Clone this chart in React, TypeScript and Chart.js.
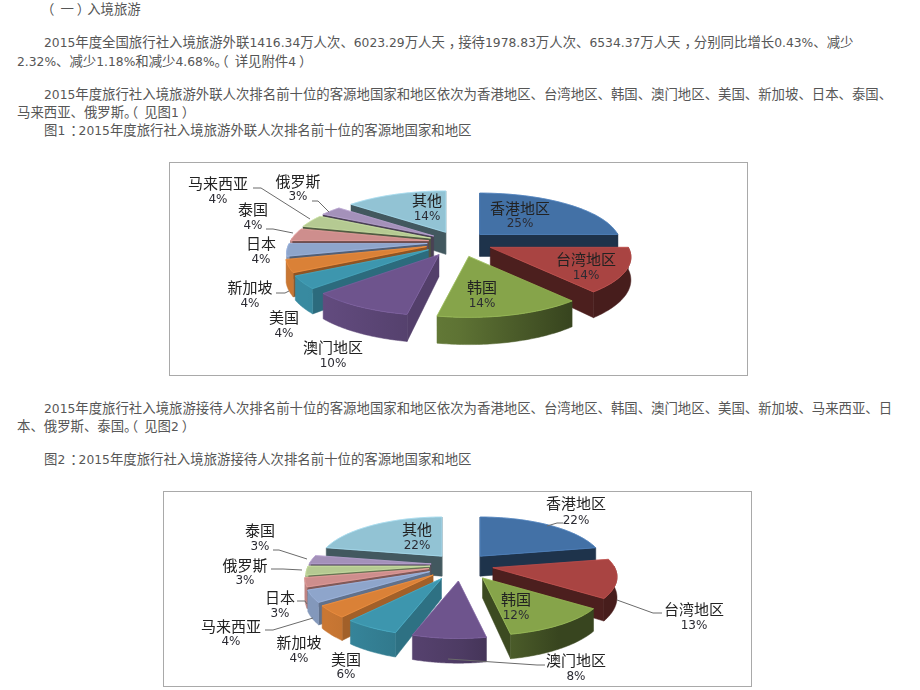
import React, { useEffect, useRef } from "react";
import { Chart, registerables } from "chart.js";

Chart.register(...registerables);

const categoriesA = ["香港地区", "台湾地区", "韩国", "澳门地区", "美国", "新加坡", "日本", "泰国", "马来西亚", "俄罗斯", "其他"];
const valuesA = [25, 14, 14, 10, 4, 4, 4, 4, 4, 3, 14];
const categoriesB = ["香港地区", "台湾地区", "韩国", "澳门地区", "美国", "新加坡", "马来西亚", "日本", "俄罗斯", "泰国", "其他"];
const valuesB = [22, 13, 12, 8, 6, 4, 4, 3, 3, 3, 22];

const sliceColors = ["#4371A6", "#A94442", "#86A44A", "#6E548D", "#3D96AE", "#DA8137", "#8EA5CB", "#CE8E8D", "#B5CA92", "#A491BA", "#92C3D4"];

type Spot = [number, number, number];
// label anchors: centre x, first line y, second line y (page pixels)
const labelSpotsA: Spot[] = [
  [520, 208, 223], [586, 259, 275], [482, 287, 303], [333, 347, 363], [284, 317, 333], [250, 287, 303],
  [261, 243, 259], [253, 209, 225], [218, 183, 199], [298, 181, 196], [427, 200, 216],
];
const labelSpotsB: Spot[] = [
  [576, 503, 520], [694, 609, 625], [516, 599, 615], [576, 660, 676], [346, 659, 674], [299, 642, 658],
  [231, 626, 641], [280, 597, 613], [245, 565, 580], [260, 530, 546], [417, 529, 545],
];
const leadersA = [
  [[253, 188], [261, 188], [310, 219]],
  [[312, 201], [318, 201], [329, 212]],
  [[266, 229], [273, 229], [293, 233]],
  [[276, 293], [285, 293], [289, 291]],
];
const leadersB = [
  [[273, 550], [279, 550], [307, 559]],
  [[271, 569], [283, 569], [302, 570]],
  [[297, 601], [305, 601], [307, 604]],
  [[265, 630], [273, 630], [313, 618]],
  [[563, 523], [557, 523], [547, 526]],
  [[662, 613], [653, 613], [617, 600]],
  [[545, 665], [537, 665], [448, 659]],
];

const paragraphLines: [string, number, number][] = [
  ["（一）入境旅游", 47, 9],
  ["2015年度全国旅行社入境旅游外联1416.34万人次、6023.29万人天，接待1978.83万人次、6534.37万人天，分别同比增长0.43%、减少", 44, 42],
  ["2.32%、减少1.18%和减少4.68%。（详见附件4）", 17, 61],
  ["2015年度旅行社入境旅游外联人次排名前十位的客源地国家和地区依次为香港地区、台湾地区、韩国、澳门地区、美国、新加坡、日本、泰国、", 44, 94],
  ["马来西亚、俄罗斯。（见图1）", 17, 112],
  ["图1：2015年度旅行社入境旅游外联人次排名前十位的客源地国家和地区", 44, 130],
  ["2015年度旅行社入境旅游接待人次排名前十位的客源地国家和地区依次为香港地区、台湾地区、韩国、澳门地区、美国、新加坡、马来西亚、日", 44, 408],
  ["本、俄罗斯、泰国。（见图2）", 17, 426],
  ["图2：2015年度旅行社入境旅游接待人次排名前十位的客源地国家和地区", 44, 459],
];

function shade(hex: string, f: number) {
  const n = parseInt(hex.slice(1), 16);
  const c = [(n >> 16) & 255, (n >> 8) & 255, n & 255].map((v) => Math.round(Math.min(255, v * f)));
  return `rgb(${c[0]},${c[1]},${c[2]})`;
}

type PieProps = {
  left: number; top: number; width: number; height: number;
  categories: string[]; values: number[]; spots: Spot[]; leaders: number[][][];
  padding: { left: number; bottom: number };
  radiusScale: number; tilt: number; persp: number; explode: number; depth: number;
};

function makeProjectionPlugin(p: PieProps) {
  const ox = p.left + 1;
  const oy = p.top + 1;
  return {
    id: "projectedPie",
    beforeDatasetDraw() {
      return false;
    },
    beforeDatasetsDraw(chart: any) {
      const ctx = chart.ctx as CanvasRenderingContext2D;
      const arcs = chart.getDatasetMeta(0).data as any[];
      const project = (arc: any, mid: number, a: number, rr: number, h: number): [number, number] => {
        const R = arc.outerRadius * p.radiusScale;
        const px = Math.cos(a) * rr * R;
        const py = Math.sin(a) * rr * R;
        const s = 1 / (1 - (p.persp * py) / R);
        const e = p.explode * (1 + 0.4 * Math.max(0, Math.sin(mid)));
        return [
          arc.x + Math.cos(mid) * e + px * s,
          arc.y + Math.sin(mid) * e * p.tilt + py * p.tilt * s + h * s,
        ];
      };
      const poly = (pts: [number, number][], fill: string | CanvasGradient) => {
        ctx.beginPath();
        pts.forEach((q, i) => (i ? ctx.lineTo(q[0], q[1]) : ctx.moveTo(q[0], q[1])));
        ctx.closePath();
        ctx.fillStyle = fill;
        ctx.strokeStyle = fill;
        ctx.lineWidth = 0.5;
        ctx.fill();
        ctx.stroke();
      };
      const order = arcs
        .map((arc, i) => ({ arc, i, mid: (arc.startAngle + arc.endAngle) / 2 }))
        .sort((u, v) => Math.sin(u.mid) - Math.sin(v.mid));
      for (const { arc, i, mid } of order) {
        const color = sliceColors[i];
        const a0 = arc.startAngle;
        const a1 = arc.endAngle;
        const R = arc.outerRadius * p.radiusScale;
        const wallShade = Math.cos(mid) < 0 ? 0.45 + 0.3 * Math.max(0, Math.min(1, Math.sin(mid) + 0.3)) : 0.45;
        const radial = (a: number) => [
          project(arc, mid, a, 0, 0), project(arc, mid, a, 1, 0), project(arc, mid, a, 1, p.depth), project(arc, mid, a, 0, p.depth),
        ] as [number, number][];
        if (-Math.cos(a0) > -0.02) poly(radial(a0), shade(color, wallShade));
        if (Math.cos(a1) > -0.02) poly(radial(a1), shade(color, wallShade));
        const steps = 48;
        const front: number[] = [];
        for (let k = 0; k <= steps; k++) {
          const a = a0 + ((a1 - a0) * k) / steps;
          if (Math.sin(a) > -0.05) front.push(a);
        }
        if (front.length > 1) {
          const g = ctx.createLinearGradient(arc.x - R * 1.1, 0, arc.x + R * 0.8, 0);
          g.addColorStop(0, shade(color, 0.92));
          g.addColorStop(0.58, shade(color, 0.7));
          g.addColorStop(1, shade(color, 0.42));
          const pts: [number, number][] = [];
          front.forEach((a) => pts.push(project(arc, mid, a, 1, 0)));
          front.slice().reverse().forEach((a) => pts.push(project(arc, mid, a, 1, p.depth)));
          poly(pts, g);
        }
        const top: [number, number][] = [project(arc, mid, a0, 0, 0)];
        for (let k = 0; k <= steps; k++) top.push(project(arc, mid, a0 + ((a1 - a0) * k) / steps, 1, 0));
        poly(top, color);
        ctx.beginPath();
        top.forEach((q, n) => (n ? ctx.lineTo(q[0], q[1]) : ctx.moveTo(q[0], q[1])));
        ctx.closePath();
        ctx.strokeStyle = shade(color, 1.18);
        ctx.lineWidth = 0.6;
        ctx.stroke();
      }
    },
    afterDatasetsDraw(chart: any) {
      const ctx = chart.ctx as CanvasRenderingContext2D;
      ctx.save();
      ctx.strokeStyle = "#6b6b6b";
      ctx.lineWidth = 1;
      p.leaders.forEach((line) => {
        ctx.beginPath();
        line.forEach(([x, y], i) => (i ? ctx.lineTo(x - ox, y - oy) : ctx.moveTo(x - ox, y - oy)));
        ctx.stroke();
      });
      ctx.textAlign = "center";
      ctx.textBaseline = "middle";
      p.categories.forEach((name, i) => {
        const [x, y1, y2] = p.spots[i];
        ctx.fillStyle = "#222";
        ctx.font = '15px "Noto Sans CJK SC"';
        ctx.fillText(name, x - ox, y1 - oy);
        ctx.fillStyle = "#2b2b33";
        ctx.font = '12px "DejaVu Sans"';
        ctx.fillText(`${p.values[i]}%`, x - ox, y2 - oy + 1);
      });
      ctx.restore();
    },
  };
}

function ProjectedPie(props: PieProps) {
  const ref = useRef<HTMLCanvasElement | null>(null);
  useEffect(() => {
    const chart = new Chart(ref.current as HTMLCanvasElement, {
      type: "pie",
      data: {
        labels: props.categories,
        datasets: [{ data: props.values, backgroundColor: sliceColors, borderWidth: 0 }],
      },
      options: {
        animation: false,
        responsive: false,
        events: [],
        layout: { padding: { left: props.padding.left, bottom: props.padding.bottom, top: 0, right: 0 } },
        plugins: { legend: { display: false }, tooltip: { enabled: false }, title: { display: false } },
      },
      plugins: [makeProjectionPlugin(props)],
    } as any);
    return () => chart.destroy();
  }, []);
  return (
    <div
      style={{
        position: "absolute", left: props.left, top: props.top, width: props.width, height: props.height,
        border: "1px solid #a9a9a9", background: "#fff",
      }}
    >
      <canvas ref={ref} width={props.width} height={props.height} style={{ display: "block" }} />
    </div>
  );
}

const punctuationShift: Record<string, number> = { "（": -6, "）": 3, "：": 5, "，": 4 };

function TextLine({ text, x, y }: { text: string; x: number; y: number }) {
  const runs = text.match(/[0-9.%]+|[（）：，]|[^0-9.%（）：，]+/g) || [];
  return (
    <div style={{ position: "absolute", left: x, top: y - 10, height: 20, lineHeight: "19px", whiteSpace: "pre", color: "#565656", fontSize: 13.4, fontFamily: '"Noto Sans CJK SC"' }}>
      {runs.map((r, i) => {
        if (/^[0-9.%]/.test(r)) return <span key={i} style={{ fontFamily: '"DejaVu Sans"', fontSize: 12.3 }}>{r}</span>;
        if (punctuationShift[r] !== undefined) return <span key={i} style={{ position: "relative", left: punctuationShift[r] }}>{r}</span>;
        return <span key={i}>{r}</span>;
      })}
    </div>
  );
}

export default function App() {
  return (
    <div style={{ position: "fixed", left: 0, top: 0, width: 920, height: 690, background: "#fff", overflow: "hidden", filter: "blur(0.35px)" }}>
      {paragraphLines.map(([t, x, y], i) => (
        <TextLine key={i} text={t} x={x} y={y} />
      ))}
      <ProjectedPie
        left={169} top={162} width={577} height={212}
        categories={categoriesA} values={valuesA} spots={labelSpotsA} leaders={leadersA}
        padding={{ left: 0, bottom: 54 }}
        radiusScale={1.747} tilt={0.357} persp={0.192} explode={30} depth={22}
      />
      <ProjectedPie
        left={163} top={491} width={587} height={194}
        categories={categoriesB} values={valuesB} spots={labelSpotsB} leaders={leadersB}
        padding={{ left: 7, bottom: 48 }}
        radiusScale={1.67} tilt={0.382} persp={0.19} explode={30} depth={20}
      />
    </div>
  );
}
